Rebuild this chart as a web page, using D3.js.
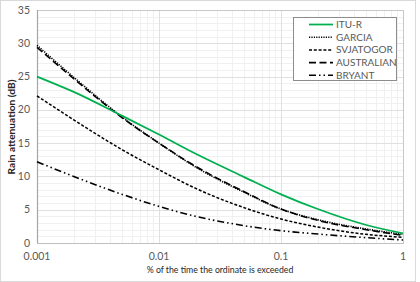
<!DOCTYPE html>
<html><head><meta charset="utf-8">
<script src="https://cdn.jsdelivr.net/npm/d3@7"></script>
<style>
html,body{margin:0;padding:0;background:#fff;}
text{font-family:Lato,"Liberation Sans",sans-serif;}
</style></head>
<body><svg id="c" width="420" height="282"></svg>
<script>
const pct = [0.001, 0.002, 0.005, 0.01, 0.02, 0.05, 0.1, 0.2, 0.5, 1];
const ituR = [25.0, 22.7, 19.1, 16.3, 13.4, 9.9, 7.3, 5.1, 2.7, 1.45];
const garcia = [29.7, 24.9, 18.9, 15.0, 11.4, 7.6, 5.1, 3.5, 2.1, 1.3];
const svjatogor = [22.1, 18.5, 14.0, 11.0, 8.2, 5.3, 3.6, 2.4, 1.3, 0.85];
const australian = [29.4, 24.7, 18.8, 15.0, 11.5, 7.7, 5.1, 3.4, 2.0, 1.15];
const bryant = [12.2, 10.0, 7.3, 5.5, 4.0, 2.6, 1.85, 1.35, 0.8, 0.45];
const seriesNames = ["ITU-R", "GARCIA", "SVJATOGOR", "AUSTRALIAN", "BRYANT"];
const xTicks = [0.001, 0.01, 0.1, 1];
const yTicks = [0, 5, 10, 15, 20, 25, 30, 35];

const series = [
  {name: seriesNames[0], vals: ituR, color: "#00b050", dash: null, w: 1.75},
  {name: seriesNames[1], vals: garcia, color: "#000", dash: "1.2,1.2", w: 1.6},
  {name: seriesNames[2], vals: svjatogor, color: "#000", dash: "3,1.8", w: 1.5},
  {name: seriesNames[3], vals: australian, color: "#000", dash: "7,3.5", w: 1.6},
  {name: seriesNames[4], vals: bryant, color: "#000", dash: "7,3,1.5,3,1.5,3", w: 1.6}
];

const svg = d3.select("#c");
const m = {l: 37, t: 10, w: 366, h: 233};
svg.append("rect").attr("x", 0.5).attr("y", 0.5).attr("width", 415).attr("height", 281)
  .attr("fill", "#fff").attr("stroke", "#d9d9d9");

const x = d3.scaleLog().domain([0.001, 1]).range([m.l, m.l + m.w]);
const y = d3.scaleLinear().domain([0, 35]).range([m.t + m.h, m.t]);

const g = svg.append("g");
const minorX = [];
for (let d = 0.001; d < 1; d *= 10) for (let k = 2; k <= 9; k++) minorX.push(d * k);
g.selectAll(".mx").data(minorX).enter().append("line")
  .attr("x1", d => Math.round(x(d)) + 0.5).attr("x2", d => Math.round(x(d)) + 0.5)
  .attr("y1", m.t).attr("y2", m.t + m.h).attr("stroke", "#f0f0f0");
const minorY = d3.range(1, 35).filter(v => v % 5 !== 0);
g.selectAll(".my").data(minorY).enter().append("line")
  .attr("y1", d => Math.round(y(d)) + 0.5).attr("y2", d => Math.round(y(d)) + 0.5)
  .attr("x1", m.l).attr("x2", m.l + m.w).attr("stroke", "#f0f0f0");
g.selectAll(".Mx").data(xTicks).enter().append("line")
  .attr("x1", d => Math.round(x(d)) + 0.5).attr("x2", d => Math.round(x(d)) + 0.5)
  .attr("y1", m.t).attr("y2", m.t + m.h).attr("stroke", "#e0e0e0");
g.selectAll(".My").data(yTicks).enter().append("line")
  .attr("y1", d => Math.round(y(d)) + 0.5).attr("y2", d => Math.round(y(d)) + 0.5)
  .attr("x1", m.l).attr("x2", m.l + m.w).attr("stroke", "#e0e0e0");
svg.append("rect").attr("x", m.l + 0.5).attr("y", m.t + 0.5).attr("width", m.w).attr("height", m.h)
  .attr("fill", "none").attr("stroke", "#c8c8c8");
svg.append("line").attr("x1", m.l + 0.5).attr("x2", m.l + 0.5).attr("y1", m.t).attr("y2", m.t + m.h + 0.5)
  .attr("stroke", "#a6a6a6").attr("stroke-width", 1.2);
svg.append("line").attr("x1", m.l).attr("x2", m.l + m.w).attr("y1", m.t + m.h + 0.5).attr("y2", m.t + m.h + 0.5)
  .attr("stroke", "#bfbfbf");

svg.selectAll(".yl").data(yTicks).enter().append("text")
  .attr("x", 30).attr("y", d => y(d) + 3.5).attr("text-anchor", "end")
  .attr("font-size", 10.5).attr("fill", "#595959").text(d => d);
svg.selectAll(".xl").data(xTicks).enter().append("text")
  .attr("x", d => x(d)).attr("y", 260).attr("text-anchor", "middle")
  .attr("font-size", 10.5).attr("fill", "#595959").text(d => d3.format("")(d));

function fit(sel, target, base) {
  const w = sel.node().getComputedTextLength();
  if (w > 0) sel.attr("font-size", base * target / w);
}
const xt = svg.append("text").attr("x", 220).attr("y", 273).attr("text-anchor", "middle")
  .attr("font-size", 10).attr("fill", "#262626").text("% of the time the ordinate is exceeded");
fit(xt, 147, 10);
const yt = svg.append("text").attr("transform", "translate(15,127) rotate(-90)").attr("text-anchor", "middle")
  .attr("font-size", 10).attr("font-weight", "bold").attr("fill", "#262626").text("Rain attenuation (dB)");
fit(yt, 95, 10);

const line = d3.line().x((d, i) => x(pct[i])).y(d => y(d)).curve(d3.curveMonotoneX);
series.slice().reverse().forEach(s => {
  svg.append("path").attr("d", line(s.vals)).attr("fill", "none")
    .attr("stroke", s.color).attr("stroke-width", s.w)
    .attr("stroke-dasharray", s.dash);
});

const lg = svg.append("g");
lg.append("rect").attr("x", 293.5).attr("y", 17.5).attr("width", 103).attr("height", 63)
  .attr("fill", "#fff").attr("stroke", "#8c8c8c");
series.forEach((s, i) => {
  const yy = 24.5 + i * 12.7;
  lg.append("line").attr("x1", 309).attr("x2", 333).attr("y1", yy).attr("y2", yy)
    .attr("stroke", s.color).attr("stroke-width", s.w).attr("stroke-dasharray", s.dash);
  lg.append("text").attr("x", 336).attr("y", yy + 3.5).attr("font-size", 10)
    .attr("fill", "#595959").text(s.name);
});
</script></body></html>
